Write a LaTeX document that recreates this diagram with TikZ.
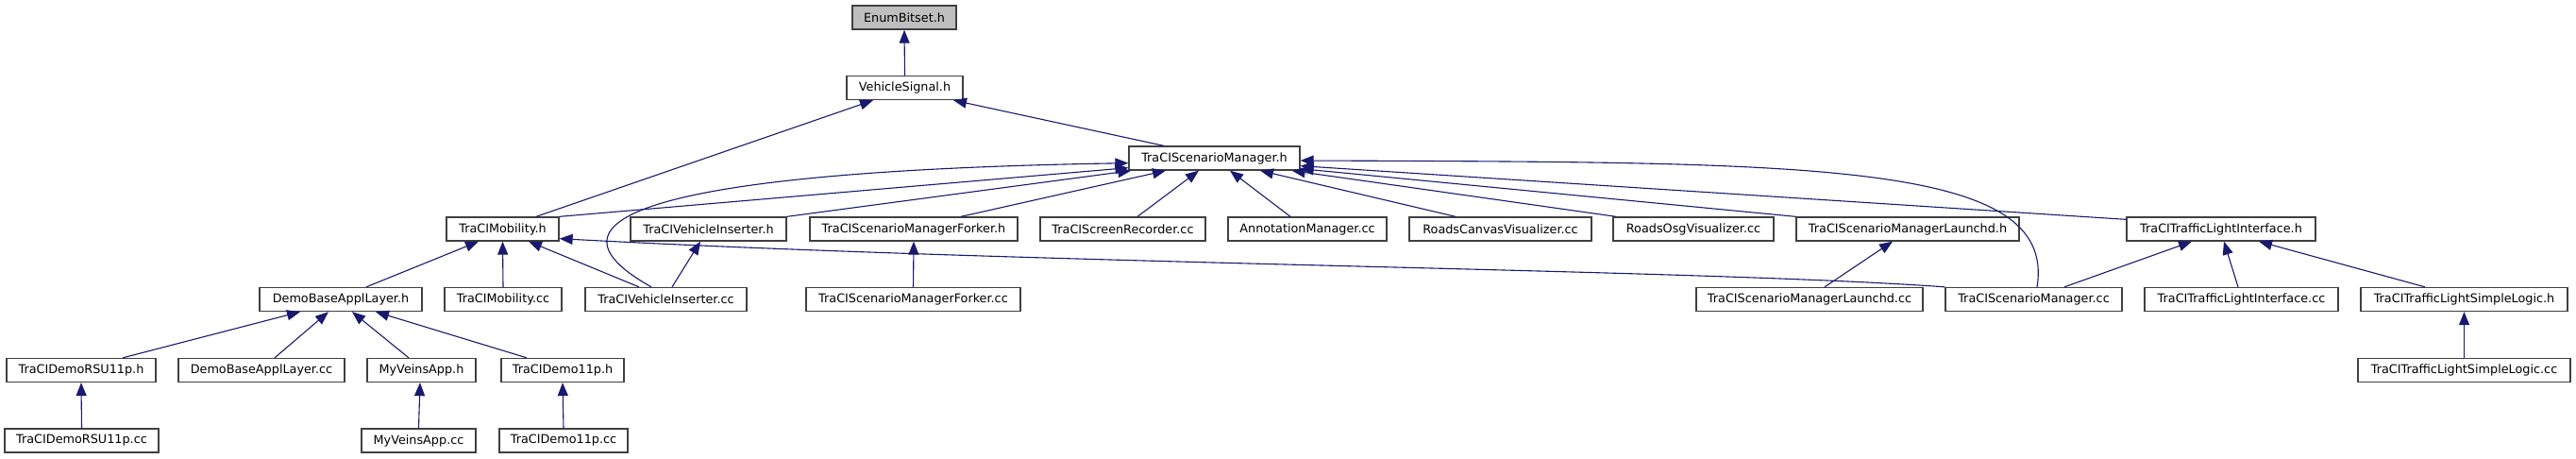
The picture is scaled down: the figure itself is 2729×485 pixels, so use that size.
\documentclass[tikz,border=0pt]{standalone}
\usepackage{fontspec}
\setmainfont{DejaVu Sans}
\usetikzlibrary{arrows.meta}
\definecolor{edgeblue}{HTML}{191970}
\definecolor{boxline}{HTML}{404040}
\definecolor{grayfill}{HTML}{BFBFBF}
\begin{document}
\begin{tikzpicture}[x=1pt,y=-1pt,
  box/.style={draw=boxline, fill=white, line width=1.3pt, minimum height=25pt, inner sep=0pt, font=\fontsize{12.8}{15}\selectfont, text=black},
  dep/.style={draw=edgeblue, line width=1.1pt, -{Triangle[length=14pt,width=11pt]}}]
\useasboundingbox (0,0) rectangle (2729,485);
% row 0-2
\node[box, minimum width=110pt, fill=grayfill] (enum) at (958,18.5) {EnumBitset.h};
\node[box, minimum width=123pt] (vs) at (958.5,93) {VehicleSignal.h};
\node[box, minimum width=181pt] (tsm) at (1286.5,167.5) {TraCIScenarioManager.h};
% row 3
\node[box, minimum width=119pt] (tm) at (532.5,242.5) {TraCIMobility.h};
\node[box, minimum width=165pt] (tvih) at (750.5,242.5) {TraCIVehicleInserter.h};
\node[box, minimum width=220pt] (forkh) at (968,242.5) {TraCIScenarioManagerForker.h};
\node[box, minimum width=175pt] (rec) at (1189.5,242.5) {TraCIScreenRecorder.cc};
\node[box, minimum width=168pt] (ann) at (1385,242.5) {AnnotationManager.cc};
\node[box, minimum width=193pt] (rcv) at (1589.5,242.5) {RoadsCanvasVisualizer.cc};
\node[box, minimum width=170pt] (rosg) at (1794,242.5) {RoadsOsgVisualizer.cc};
\node[box, minimum width=236pt] (lh) at (2021,242.5) {TraCIScenarioManagerLaunchd.h};
\node[box, minimum width=200pt] (tlih) at (2353,242.5) {TraCITrafficLightInterface.h};
% row 4
\node[box, minimum width=172pt] (dbalh) at (361,317) {DemoBaseApplLayer.h};
\node[box, minimum width=124pt] (tmcc) at (533,317) {TraCIMobility.cc};
\node[box, minimum width=171pt] (tvicc) at (705.5,317) {TraCIVehicleInserter.cc};
\node[box, minimum width=227pt] (forkcc) at (967.5,317) {TraCIScenarioManagerForker.cc};
\node[box, minimum width=240pt] (lcc) at (1917,317) {TraCIScenarioManagerLaunchd.cc};
\node[box, minimum width=187pt] (tsmcc) at (2154.5,317) {TraCIScenarioManager.cc};
\node[box, minimum width=205pt] (tlicc) at (2374.5,317) {TraCITrafficLightInterface.cc};
\node[box, minimum width=219pt] (tslh) at (2610.5,317) {TraCITrafficLightSimpleLogic.h};
% row 5
\node[box, minimum width=158pt] (rsuh) at (86,392) {TraCIDemoRSU11p.h};
\node[box, minimum width=176pt] (dbalcc) at (277,392) {DemoBaseApplLayer.cc};
\node[box, minimum width=115pt] (mvh) at (446.5,392) {MyVeinsApp.h};
\node[box, minimum width=130pt] (d11h) at (596,392) {TraCIDemo11p.h};
\node[box, minimum width=225pt] (tslcc) at (2610.5,392) {TraCITrafficLightSimpleLogic.cc};
% row 6
\node[box, minimum width=163pt] (rsucc) at (86.5,466.5) {TraCIDemoRSU11p.cc};
\node[box, minimum width=121pt] (mvcc) at (443.5,466.5) {MyVeinsApp.cc};
\node[box, minimum width=136pt] (d11cc) at (597,466.5) {TraCIDemo11p.cc};
% edges
\draw[dep] (vs.north) -- (enum.south);
\draw[dep] ([xshift=35.5pt]tm.north) -- ([xshift=-33.5pt]vs.south);
\draw[dep] ([xshift=-53.5pt]tsm.north) -- ([xshift=51.5pt]vs.south);
\draw[dep] (tm.north east) -- ([yshift=3pt]tsm.south west);
\draw[dep] ([xshift=-15.5pt]tvicc.north) .. controls (540,220) and (760,180) .. ([yshift=8pt]tsm.south west);
\draw[dep] (tvih.north east) -- ([xshift=3pt]tsm.south west);
\draw[dep] ([xshift=50pt]forkh.north) -- ([xshift=-51.5pt]tsm.south);
\draw[dep] ([xshift=15.5pt]rec.north) -- ([xshift=-16.5pt]tsm.south);
\draw[dep] ([xshift=-18pt]ann.north) -- ([xshift=16.5pt]tsm.south);
\draw[dep] ([xshift=-47.5pt]rcv.north) -- ([xshift=48.5pt]tsm.south);
\draw[dep] ([xshift=-82pt]rosg.north) -- ([xshift=-9pt]tsm.south east);
\draw[dep] (lh.north west) -- ([yshift=2pt]tsm.south east);
\draw[dep] ([yshift=-3pt]tlih.north west) -- ([yshift=5pt]tsm.south east);
\draw[dep] ([xshift=3.5pt]tsmcc.north) .. controls (2180,170) and (1920,172) .. ([yshift=-2.5pt]tsm.east);
\draw[dep] ([xshift=27pt]dbalh.north) -- ([xshift=-25.5pt]tm.south);
\draw[dep] (tmcc.north) -- (tm.south);
\draw[dep] ([xshift=-28.5pt]tvicc.north) -- ([xshift=27.5pt]tm.south);
\draw[dep] (tsmcc.north west) .. controls (1800,285) and (1100,280) .. ([yshift=3pt]tm.south east);
\draw[dep] ([xshift=6.5pt]tvicc.north) -- ([xshift=-8.5pt]tvih.south);
\draw[dep] (forkcc.north) -- (forkh.south);
\draw[dep] ([xshift=16pt]lcc.north) -- ([xshift=-16pt]lh.south);
\draw[dep] ([xshift=32.5pt]tsmcc.north) -- ([xshift=-31pt]tlih.south);
\draw[dep] ([xshift=-3.5pt]tlicc.north) -- ([xshift=3pt]tlih.south);
\draw[dep] ([xshift=-41.5pt]tslh.north) -- ([xshift=40pt]tlih.south);
\draw[dep] (tslcc.north) -- (tslh.south);
\draw[dep] ([xshift=44pt]rsuh.north) -- ([xshift=-43pt]dbalh.south);
\draw[dep] ([xshift=14pt]dbalcc.north) -- ([xshift=-13pt]dbalh.south);
\draw[dep] ([xshift=-13.5pt]mvh.north) -- ([xshift=12pt]dbalh.south);
\draw[dep] ([xshift=-38pt]d11h.north) -- ([xshift=37pt]dbalh.south);
\draw[dep] (rsucc.north) -- (rsuh.south);
\draw[dep] (mvcc.north) -- ([xshift=-1.5pt]mvh.south);
\draw[dep] (d11cc.north) -- (d11h.south);
\end{tikzpicture}
\end{document}
